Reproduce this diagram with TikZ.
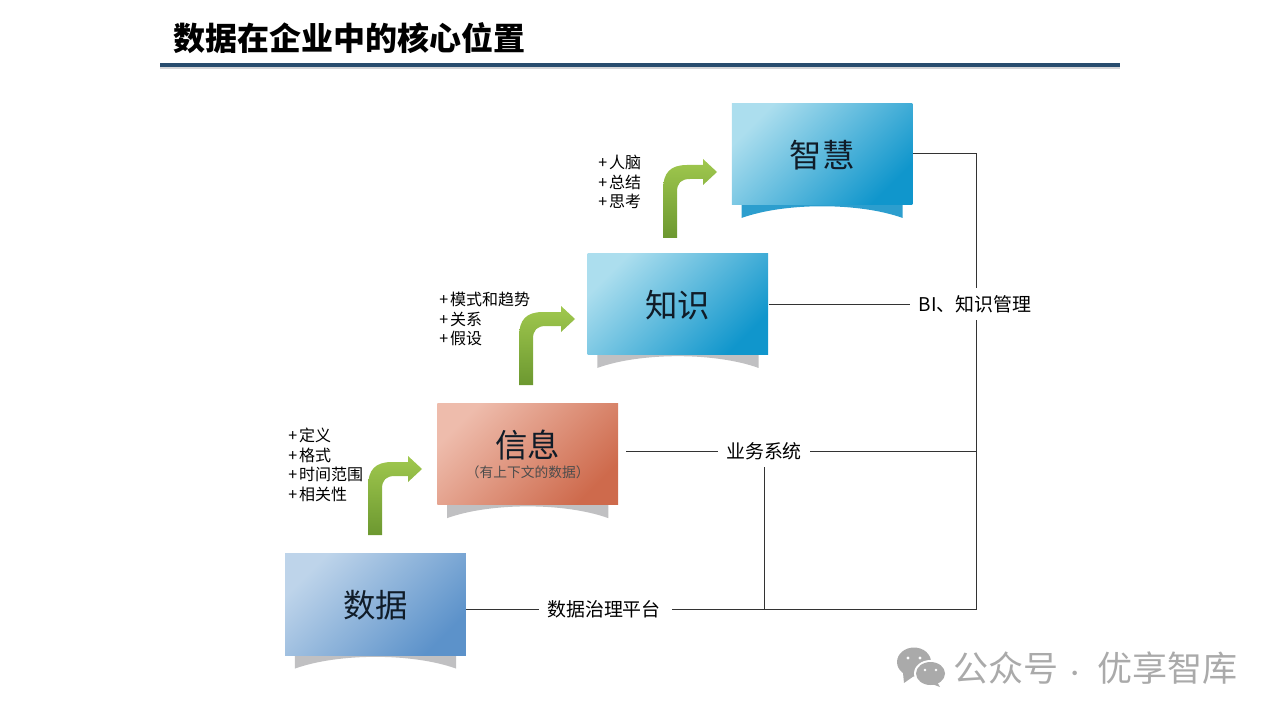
\documentclass[tikz,border=0pt]{standalone}
\usepackage{fontspec}
\usepackage{xcolor}
\setmainfont{Noto Sans CJK SC}
\usetikzlibrary{positioning, backgrounds}
\definecolor{rulenavy}{RGB}{40, 76, 110}
\definecolor{inktext}{RGB}{16, 28, 40}
\definecolor{shadowgray}{RGB}{192, 192, 194}
\definecolor{rulegray}{RGB}{214, 214, 216}
\definecolor{wiseedge}{RGB}{44, 158, 206}
\definecolor{markgray}{RGB}{170, 170, 170}
\definecolor{arrowtop}{RGB}{160, 200, 78}
\definecolor{arrowlow}{RGB}{108, 152, 48}
\definecolor{datalight}{RGB}{190, 212, 234}
\definecolor{datadark}{RGB}{92, 146, 202}
\definecolor{infolight}{RGB}{238, 188, 172}
\definecolor{infodark}{RGB}{206, 106, 76}
\definecolor{skylight}{RGB}{172, 222, 238}
\definecolor{skydark}{RGB}{16, 150, 204}
\newcommand{\stepitem}[1]{+\kern1.5pt#1}

\begin{document}
\begin{tikzpicture}[
      x=.75pt, y=-.75pt,
      stage/.style={rectangle, inner sep=0pt, minimum width=135.5pt, minimum height=76.25pt, align=center, text=inktext, font=\fontsize{24.3}{26}\selectfont, top color=#1light, bottom color=#1dark, shading angle=45},
      lone/.style={text height=20pt, text depth=0pt},
      tag/.style={rectangle, fill=white, inner xsep=6pt, inner ysep=0pt, minimum height=24pt, font=\fontsize{14.2}{16}\selectfont, text=black},
      steps/.style={inner sep=0pt, align=left, font=\fontsize{12}{14.6}\selectfont, text=black},
      link/.style={draw=black!80, line width=.7pt}
    ]
      \useasboundingbox (0,0) rectangle (1280,720);

      % title
      \fill[rulegray] (160,66) rectangle (1120,69.5);
      \fill[rulenavy] (160,63) rectangle (1120,67.5);
      \node[anchor=west, inner sep=0pt, font=\fontsize{24}{26}\selectfont\bfseries] (title) at (173,38) {数据在企业中的核心位置};

      % stages
      \node[stage=data, lone] (data) at (375.5,604.5) {数据};
      \node[stage=info, above right=36.2pt and -21.75pt of data] (info) {信息\\[-11pt]{\fontsize{10.3}{11}\selectfont\color{black!70}（有上下文的数据）}};
      \node[stage=sky, lone, above right=36pt and -23.25pt of info] (know) {知识};
      \node[stage=sky, lone, above right=35.8pt and -27.75pt of know] (wise) {智慧};

      % step lists
      \node[steps, anchor=west] (datasteps) at (288,465) {\stepitem{定义}\\\stepitem{格式}\\\stepitem{时间范围}\\\stepitem{相关性}};
      \node[steps, anchor=west] (infosteps) at (439,319) {\stepitem{模式和趋势}\\\stepitem{关系}\\\stepitem{假设}};
      \node[steps, anchor=west] (knowsteps) at (598,182) {\stepitem{人脑}\\\stepitem{总结}\\\stepitem{思考}};

      % bent arrows
      \foreach \ax/\ay/\reach in {368/535/54, 519/385/56, 663/238/54}
        \shade[top color=arrowtop, bottom color=arrowlow, shift={(\ax,\ay)}]
          (0,0) -- (0,-48) .. controls (0,-65) and (7,-73) .. (24,-73) -- (\reach-14,-73)
          -- (\reach-14,-79) -- (\reach,-66) -- (\reach-14,-53) -- (\reach-14,-59)
          -- (27,-59) .. controls (18,-59) and (14,-55) .. (14,-46) -- (14,0) -- cycle;

      % systems
      \node[tag] (plat) at (604,609) {数据治理平台};
      \node[tag] (biz) at (764,451) {业务系统};
      \node[tag] (bi) at (975,304) {BI、知识管理};
      \coordinate (corner) at (976,609);

      \begin{scope}[on background layer]
        \foreach \sname/\col in {data/shadowgray, info/shadowgray, know/shadowgray, wise/wiseedge}
          \fill[\col] ([xshift=7.5pt]\sname.south west) -- ([xshift=7.5pt, yshift=-9.75pt]\sname.south west)
            .. controls ([xshift=40pt, yshift=2pt]\sname.south west) and ([xshift=-40pt, yshift=2pt]\sname.south east)
            .. ([xshift=-7.5pt, yshift=-9.75pt]\sname.south east) -- ([xshift=-7.5pt]\sname.south east) -- cycle;
        \draw[link] (data.east |- plat.west) -- (plat.west);
        \draw[link] ([xshift=6pt]info.east |- biz.west) -- (biz.west);
        \draw[link] (know.east |- bi.west) -- (bi.west);
        \draw[link] (wise.east) -| (corner) -- ([xshift=2.5pt]plat.east);
        \draw[link] (biz.east) -- (biz.east -| corner);
        \draw[link] (biz.south) -- (biz.south |- corner);
      \end{scope}

      % watermark
      \fill[markgray] (914,662) ellipse (17 and 14.5);
      \fill[markgray] (903,673) -- (904,683) -- (914,676) -- cycle;
      \fill[white] (930.5,673.5) ellipse (16.5 and 13.5);
      \fill[markgray] (930.5,673.5) ellipse (14.5 and 11.5);
      \fill[markgray] (937,682) -- (940,687) -- (932,684) -- cycle;
      \foreach \ex/\ey/\er in {908/658/1.7, 920/658/1.7, 925/670/1.3, 936/670/1.3}
        \fill[white] (\ex,\ey) circle (\er);
      \node[anchor=west, inner sep=0pt, text=markgray, font=\fontsize{26.3}{28}\selectfont] (mark) at (953.5,668) {公众号\kern4pt{\fontsize{16}{18}\selectfont·}\kern9pt优享智库};
    \end{tikzpicture}
\end{document}
